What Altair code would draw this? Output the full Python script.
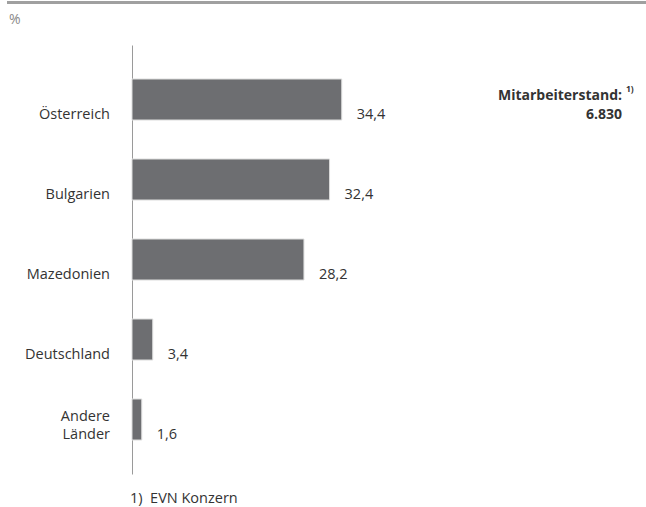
import altair as alt
import pandas as pd

categories = ["Österreich", "Bulgarien", "Mazedonien", "Deutschland", "Andere\nLänder"]
values = [34.4, 32.4, 28.2, 3.4, 1.6]
value_labels = ["34,4", "32,4", "28,2", "3,4", "1,6"]

unit_label = "%"
total_title = "Mitarbeiterstand:"
total_sup = "1)"
total_value = "6.830"
footnote = "1)\u00a0\u00a0EVN Konzern"

df = pd.DataFrame({"cat": categories, "val": values, "lab": value_labels})

FONT = "Open Sans"
TXT = "#333333"
FS = 14.5
W, H = 514, 429
LH = 18

yscale = alt.Scale(domain=categories, paddingInner=0.4875, paddingOuter=0.425)
xscale = alt.Scale(domain=[0, 84.3], nice=False, zero=True)

base = alt.Chart(df)

bars = base.mark_bar(color="#6d6e71", stroke="#dcdcdc", strokeWidth=1).encode(
    x=alt.X("val:Q", scale=xscale, axis=None),
    y=alt.Y("cat:N", scale=yscale, sort=categories,
            axis=alt.Axis(title=None, labels=False, ticks=False, domain=True,
                          domainColor="#9a9a9a", domainWidth=1, grid=False)),
)

vals = base.mark_text(align="left", baseline="alphabetic", dx=15, dy=-1,
                      font=FONT, fontSize=FS, color=TXT).encode(
    x=alt.X("val:Q", scale=xscale),
    y=alt.Y("cat:N", scale=yscale, sort=categories, bandPosition=1),
    text="lab:N",
)

cat_base = base.transform_calculate(
    nlines="length(split(datum.cat, '\\n'))"
)

cats1 = cat_base.transform_filter("datum.nlines == 1").mark_text(
    align="right", baseline="alphabetic", dy=-1, lineBreak="\n",
    font=FONT, fontSize=FS, color=TXT, lineHeight=LH).encode(
    x=alt.value(-22),
    y=alt.Y("cat:N", scale=yscale, sort=categories, bandPosition=1),
    text="cat:N",
)

cats2 = cat_base.transform_filter("datum.nlines == 2").mark_text(
    align="right", baseline="alphabetic", dy=-1 - LH, lineBreak="\n",
    font=FONT, fontSize=FS, color=TXT, lineHeight=LH).encode(
    x=alt.value(-22),
    y=alt.Y("cat:N", scale=yscale, sort=categories, bandPosition=1),
    text="cat:N",
)

one = alt.Data(values=[{"a": 1}])

topline = alt.Chart(one).mark_rule(color="#a0a0a0", strokeWidth=3).encode(
    x=alt.value(7 - 132), x2=alt.value(646 - 132), y=alt.value(2.5 - 45))

pct = alt.Chart(one).mark_text(align="left", baseline="middle", font=FONT,
                               fontSize=14, color="#8a8a8a").encode(
    x=alt.value(9 - 132), y=alt.value(20 - 45), text=alt.value(unit_label))

ttl = alt.Chart(one).mark_text(align="right", baseline="middle", font=FONT,
                               fontSize=14, fontWeight="bold", color=TXT).encode(
    x=alt.value(622 - 132), y=alt.value(96 - 45), text=alt.value(total_title))

sup = alt.Chart(one).mark_text(align="left", baseline="middle", font=FONT,
                               fontSize=8.5, fontWeight="bold", color=TXT).encode(
    x=alt.value(626 - 132), y=alt.value(89 - 45), text=alt.value(total_sup))

tval = alt.Chart(one).mark_text(align="right", baseline="middle", font=FONT,
                                fontSize=14, fontWeight="bold", color=TXT).encode(
    x=alt.value(622 - 132), y=alt.value(115 - 45), text=alt.value(total_value))

foot = alt.Chart(one).mark_text(align="left", baseline="middle", font=FONT,
                                fontSize=FS, color=TXT).encode(
    x=alt.value(130 - 132), y=alt.value(499 - 45), text=alt.value(footnote))

chart = alt.layer(bars, vals, cats1, cats2, topline, pct, ttl, sup, tval, foot).properties(
    width=W, height=H,
    background="white",
    autosize=alt.AutoSizeParams(type="none"),
    padding={"left": 132, "top": 45, "right": 0, "bottom": 507 - 45 - H},
).configure_view(stroke=None, strokeWidth=0)

chart.save("out.html", embed_options={"renderer": "svg", "actions": False})
